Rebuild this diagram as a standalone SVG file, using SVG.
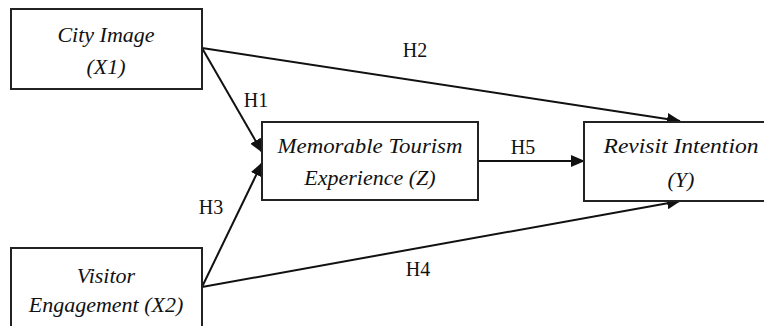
<svg xmlns="http://www.w3.org/2000/svg" width="764" height="326" viewBox="0 0 764 326">
<defs>
<marker id="arr" markerWidth="14" markerHeight="12" refX="13" refY="6" orient="auto" markerUnits="userSpaceOnUse">
<path d="M0,0 L14,6 L0,12 Z" fill="#111"/>
</marker>
<style>
.box{fill:#fff;stroke:#222;stroke-width:2}
.nt{font-style:italic;font-size:22px;fill:#111;text-anchor:middle}
.lb{font-size:20px;fill:#111;text-anchor:middle}
.cn{stroke:#111;stroke-width:2;fill:none;marker-end:url(#arr)}
</style>
</defs>
<rect width="764" height="326" fill="#fff"/>
<g id="connectors" font-family="Liberation Serif, DejaVu Serif, serif">
<line class="cn" x1="202" y1="48" x2="680" y2="121"/>
<line class="cn" x1="202" y1="48" x2="262" y2="152"/>
<line class="cn" x1="202" y1="287" x2="262" y2="163"/>
<line class="cn" x1="202" y1="287" x2="680" y2="201"/>
<line class="cn" x1="478" y1="161" x2="584" y2="161"/>
<text class="lb" x="415" y="57">H2</text>
<text class="lb" x="256" y="107">H1</text>
<text class="lb" x="211" y="214">H3</text>
<text class="lb" x="523" y="154">H5</text>
<text class="lb" x="418" y="276">H4</text>
</g>
<g id="city-image" font-family="Liberation Serif, DejaVu Serif, serif">
<rect class="box" x="11" y="9" width="191" height="80"/>
<text class="nt" x="106" y="42">City Image</text>
<text class="nt" x="106" y="74">(X1)</text>
</g>
<g id="visitor-engagement" font-family="Liberation Serif, DejaVu Serif, serif">
<rect class="box" x="11" y="248" width="191" height="90"/>
<text class="nt" x="106" y="283">Visitor</text>
<text class="nt" x="106" y="312">Engagement (X2)</text>
</g>
<g id="memorable-tourism-experience" font-family="Liberation Serif, DejaVu Serif, serif">
<rect class="box" x="262" y="122" width="216" height="78"/>
<text class="nt" x="370" y="153" textLength="185" lengthAdjust="spacingAndGlyphs">Memorable Tourism</text>
<text class="nt" x="370" y="185">Experience (Z)</text>
</g>
<g id="revisit-intention" font-family="Liberation Serif, DejaVu Serif, serif">
<rect class="box" x="584" y="122" width="194" height="79"/>
<text class="nt" x="681" y="153" textLength="155" lengthAdjust="spacingAndGlyphs">Revisit Intention</text>
<text class="nt" x="681" y="187">(Y)</text>
</g>
</svg>
